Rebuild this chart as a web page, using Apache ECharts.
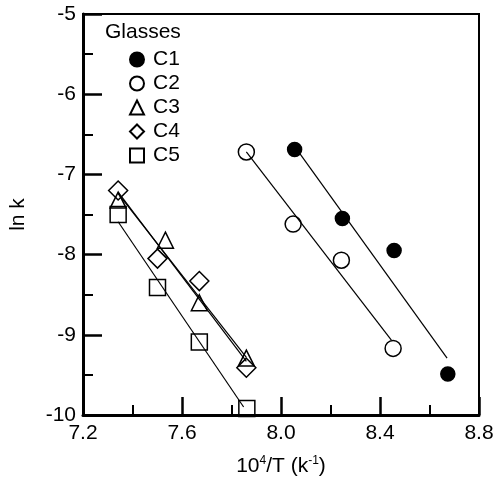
<!DOCTYPE html>
<html>
<head>
<meta charset="utf-8">
<script src="https://cdn.jsdelivr.net/npm/echarts@6/dist/echarts.min.js"></script>
<style>
  html, body { margin: 0; padding: 0; background: #fff; }
  #chart { width: 498px; height: 488px; }
</style>
</head>
<body>
<div id="chart"></div>
<script>
// 数据点 (10^4/T, ln k)
const seriesNames = ['C1', 'C2', 'C3', 'C4', 'C5']
const xC1 = [8.055, 8.248, 8.457, 8.674]
const yC1 = [-6.69, -7.55, -7.95, -9.49]
const xC2 = [7.860, 8.049, 8.244, 8.453]
const yC2 = [-6.72, -7.62, -8.07, -9.17]
const xC3 = [7.342, 7.533, 7.670, 7.860]
const yC3 = [-7.32, -7.82, -8.60, -9.29]
const xC4 = [7.342, 7.501, 7.670, 7.860]
const yC4 = [-7.20, -8.05, -8.33, -9.41]
const xC5 = [7.342, 7.501, 7.670, 7.862]
const yC5 = [-7.50, -8.41, -9.09, -9.92]
// 拟合直线 (起点, 终点)
const fitX1 = [8.055, 8.671], fitY1 = [-6.65, -9.29]
const fitX2 = [7.860, 8.446], fitY2 = [-6.72, -9.065]
const fitX3 = [7.342, 7.860], fitY3 = [-7.24, -9.28]
const fitX4 = [7.342, 7.860], fitY4 = [-7.22, -9.33]
const fitX5 = [7.342, 7.849], fitY5 = [-7.59, -9.90]

const font = 'Liberation Sans, Arial, sans-serif'
const pair = (xs, ys) => xs.map((x, i) => [x, ys[i]])

let myChart = echarts.init(document.getElementById('chart'))

const markers = [
    {x: xC1, y: yC1, symbol: 'circle', size: 14, fill: '#000'},
    {x: xC2, y: yC2, symbol: 'circle', size: 16, fill: 'transparent'},
    {x: xC3, y: yC3, symbol: 'triangle', size: 16, fill: 'transparent'},
    {x: xC4, y: yC4, symbol: 'diamond', size: 19, fill: 'transparent'},
    {x: xC5, y: yC5, symbol: 'rect', size: 16, fill: 'transparent'}
]
const fits = [[fitX1, fitY1], [fitX2, fitY2], [fitX3, fitY3], [fitX4, fitY4], [fitX5, fitY5]]

let series = []
fits.forEach((f, i) => {
    series.push({
        name: 'fit' + (i + 1),
        type: 'line',
        data: pair(f[0], f[1]),
        symbol: 'none',
        silent: true,
        lineStyle: {color: '#000', width: 1.2},
        z: 1
    })
})
markers.forEach((m, i) => {
    series.push({
        name: seriesNames[i],
        type: 'scatter',
        data: pair(m.x, m.y),
        symbol: m.symbol,
        symbolSize: m.size,
        itemStyle: {color: m.fill, borderColor: '#000', borderWidth: 1.5, opacity: 1},
        z: 3
    })
})

let option = {
    animation: false,
    grid: {
        left: 77, right: 19, top: 14, bottom: 73,
        show: true,
        borderColor: '#000',
        borderWidth: 2
    },
    legend: {
        data: seriesNames,
        orient: 'vertical',
        left: 124,
        top: 44,
        itemWidth: 14,
        itemHeight: 14,
        itemGap: 3,
        textStyle: {fontSize: 21, fontFamily: font, color: '#000', lineHeight: 21, padding: [0, 0, 0, 4]}
    },
    graphic: [{
        type: 'text',
        left: 105,
        top: 22,
        style: {text: 'Glasses', font: '21px ' + font, fill: '#000'}
    }],
    xAxis: {
        type: 'value',
        min: 7.2,
        max: 8.8,
        interval: 0.4,
        name: '{a|10}{s|4}{a|/T (k}{s|-1}{a|)}',
        nameLocation: 'middle',
        nameGap: 40,
        nameTextStyle: {
            rich: {
                a: {fontSize: 21, fontFamily: font, color: '#000', lineHeight: 23},
                s: {fontSize: 12, fontFamily: font, color: '#000', verticalAlign: 'top', lineHeight: 23}
            }
        },
        axisLine: {onZero: false, lineStyle: {color: '#000', width: 3}},
        axisTick: {inside: true, length: 18, lineStyle: {color: '#000', width: 2.5}},
        minorTick: {show: true, splitNumber: 2, length: 10, lineStyle: {color: '#000', width: 2}},
        axisLabel: {
            fontSize: 21, fontFamily: font, color: '#000', margin: 8,
            formatter: (v) => v.toFixed(1)
        },
        splitLine: {show: false}
    },
    yAxis: {
        type: 'value',
        min: -10,
        max: -5,
        interval: 1,
        name: 'ln k',
        nameLocation: 'middle',
        nameGap: 54,
        nameTextStyle: {fontSize: 21, fontFamily: font, color: '#000'},
        axisLine: {onZero: false, lineStyle: {color: '#000', width: 3}},
        axisTick: {inside: true, length: 19, lineStyle: {color: '#000', width: 2.5}},
        minorTick: {show: true, splitNumber: 2, length: 10, lineStyle: {color: '#000', width: 2}},
        axisLabel: {fontSize: 21, fontFamily: font, color: '#000', margin: 7},
        splitLine: {show: false}
    },
    series: series
}
myChart.setOption(option)
</script>
</body>
</html>
